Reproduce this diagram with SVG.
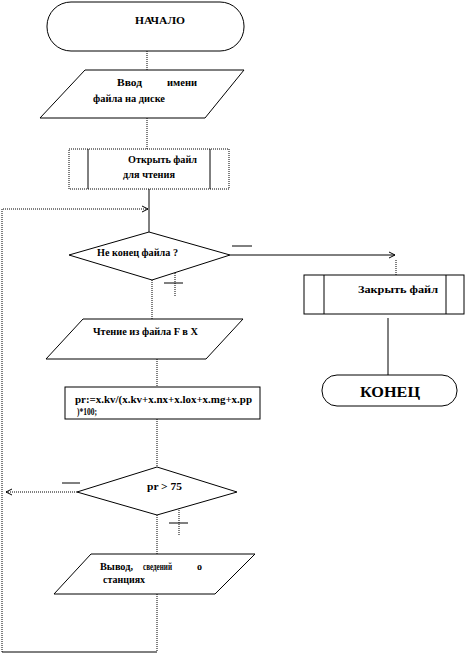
<svg xmlns="http://www.w3.org/2000/svg" width="467" height="654" viewBox="0 0 467 654">
<style>
.s{fill:#fff;stroke:#000;stroke-width:1}
.c{fill:none;stroke:#000;stroke-width:1}
.d{fill:none;stroke:#000;stroke-width:1;stroke-dasharray:1 1}
.t{font-family:"Liberation Serif",serif;font-weight:bold;font-size:9.5px;fill:#000}
.b{font-family:"Liberation Serif",serif;font-weight:bold;font-size:15px;fill:#000}
</style>
<defs>
<marker id="a" markerWidth="8" markerHeight="8" refX="7" refY="4" orient="auto" markerUnits="userSpaceOnUse">
<path d="M1,1 L7,4 L1,7" fill="none" stroke="#000" stroke-width="1"/>
</marker>
</defs>
<g id="connectors">
<line class="d" x1="147" y1="51" x2="147" y2="70"/>
<line class="d" x1="147" y1="118" x2="147" y2="149"/>
<line class="c" x1="149" y1="189" x2="149" y2="232"/>
<line class="d" x1="3" y1="209" x2="148" y2="209" marker-end="url(#a)"/>
<line class="c" x1="230" y1="255" x2="395" y2="255" marker-end="url(#a)"/>
<line class="d" x1="396" y1="260" x2="396" y2="275"/>
<line class="c" x1="388" y1="318" x2="388" y2="375"/>
<line class="d" x1="152" y1="280" x2="152" y2="319"/>
<line class="d" x1="157" y1="359" x2="157" y2="387"/>
<line class="d" x1="157" y1="419" x2="157" y2="467"/>
<line class="d" x1="77" y1="492" x2="6" y2="492" marker-end="url(#a)"/>
<line class="d" x1="157" y1="515" x2="157" y2="554"/>
<line class="d" x1="157" y1="594" x2="157" y2="652"/>
<line class="c" x1="157" y1="652" x2="2" y2="652"/>
<line class="d" x1="2" y1="652" x2="2" y2="208"/>
<line class="c" x1="232" y1="246" x2="252" y2="246"/>
<line class="c" x1="164" y1="283" x2="183" y2="283"/>
<line class="d" x1="175" y1="273" x2="175" y2="297"/>
<line class="c" x1="62" y1="483" x2="80" y2="483"/>
<line class="c" x1="169" y1="523" x2="188" y2="523"/>
<line class="d" x1="179" y1="508" x2="179" y2="535"/>
</g>
<g id="start">
<rect class="s" x="47" y="2" width="197" height="49" rx="24" ry="24"/>
<text class="t" x="135" y="24" textLength="50" lengthAdjust="spacingAndGlyphs">НАЧАЛО</text>
</g>
<g id="input-name">
<polygon class="s" points="85,70 244,70 205,118 40,118"/>
<text class="t" x="117" y="86" textLength="25" lengthAdjust="spacingAndGlyphs">Ввод</text>
<text class="t" x="167" y="86" textLength="30" lengthAdjust="spacingAndGlyphs">имени</text>
<text class="t" x="93" y="102" textLength="72" lengthAdjust="spacingAndGlyphs">файла на диске</text>
</g>
<g id="open-file">
<rect class="s" x="69" y="149" width="160" height="40" stroke-dasharray="1 1"/>
<line class="c" x1="88" y1="149" x2="88" y2="189"/>
<line class="c" x1="210" y1="149" x2="210" y2="189"/>
<text class="t" x="128" y="163" textLength="69" lengthAdjust="spacingAndGlyphs">Открыть файл</text>
<text class="t" x="123" y="178" textLength="52" lengthAdjust="spacingAndGlyphs">для чтения</text>
</g>
<g id="not-eof">
<polygon class="s" points="149,232 230,255 152,280 69,255"/>
<text class="t" x="97" y="256" textLength="81" lengthAdjust="spacingAndGlyphs">Не конец файла ?</text>
</g>
<g id="close-file">
<rect class="s" x="304" y="275" width="160" height="39"/>
<line class="c" x1="324" y1="275" x2="324" y2="314" stroke="#777"/>
<line class="c" x1="446" y1="275" x2="446" y2="314"/>
<text class="t" x="358" y="293" textLength="80" lengthAdjust="spacingAndGlyphs">Закрыть файл</text>
</g>
<g id="end">
<rect class="s" x="322" y="375" width="135" height="31" rx="15" ry="15"/>
<text class="b" x="360" y="397" textLength="60" lengthAdjust="spacingAndGlyphs">КОНЕЦ</text>
</g>
<g id="read-file">
<polygon class="s" points="83,319 243,319 206,359 46,359"/>
<text class="t" x="93" y="335" textLength="105" lengthAdjust="spacingAndGlyphs">Чтение из файла F  в  X</text>
</g>
<g id="compute">
<rect class="s" x="65" y="387" width="195" height="32"/>
<text class="t" x="75" y="403" textLength="177" lengthAdjust="spacingAndGlyphs">pr:=x.kv/(x.kv+x.nx+x.lox+x.mg+x.pp</text>
<text class="t" x="77" y="415" textLength="20" lengthAdjust="spacingAndGlyphs">)*100;</text>
</g>
<g id="check-pr">
<polygon class="s" points="157,467 237,492 157,515 77,492"/>
<text class="t" x="147" y="490" textLength="35" lengthAdjust="spacingAndGlyphs">pr &gt; 75</text>
</g>
<g id="output">
<polygon class="s" points="91,554 255,554 215,594 54,594"/>
<text class="t" x="100" y="570" textLength="33" lengthAdjust="spacingAndGlyphs">Вывод,</text>
<text class="t" x="143" y="570" textLength="29" lengthAdjust="spacingAndGlyphs">сведений</text>
<text class="t" x="197" y="570" textLength="5" lengthAdjust="spacingAndGlyphs">о</text>
<text class="t" x="103" y="583" textLength="42" lengthAdjust="spacingAndGlyphs">станциях</text>
</g>
</svg>
